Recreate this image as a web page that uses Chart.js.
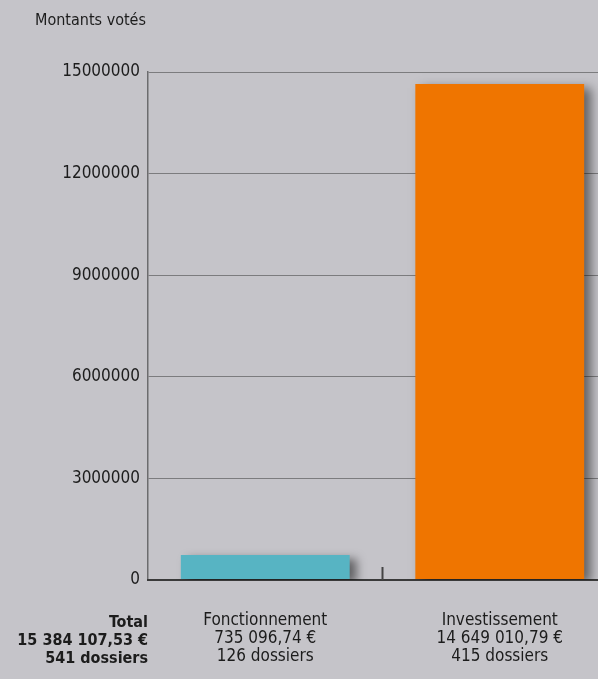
<!DOCTYPE html>
<html>
<head>
<meta charset="utf-8">
<script src="https://cdn.jsdelivr.net/npm/chart.js@4.4.1/dist/chart.umd.min.js"></script>
<style>
  html, body { margin: 0; padding: 0; background: #c5c4c9; overflow: hidden; }
  #wrap { width: 620px; height: 679px; }
</style>
</head>
<body>
<div id="wrap"><canvas id="montantsChart" width="620" height="679"></canvas></div>
<script>
const categories = ["Fonctionnement", "Investissement"];
const amounts = [735096.74, 14649010.79];
const amountLabels = ["735 096,74 €", "14 649 010,79 €"];
const dossierLabels = ["126 dossiers", "415 dossiers"];
const totalLines = ["Total", "15 384 107,53 €", "541 dossiers"];
const yMax = 15000000;
const yStep = 3000000;
const barColors = ["#57b4c3", "#ef7500"];

const FONT = "'Liberation Sans Narrow', 'DejaVu Sans Condensed', sans-serif";

// title, total block and category separator tick
const extras = {
  id: "extras",
  beforeDatasetsDraw(chart) {
    const { ctx } = chart;
    ctx.save();
    ctx.shadowColor = "rgba(0,0,0,0.5)";
    ctx.shadowBlur = 10;
    ctx.shadowOffsetX = 7;
    ctx.shadowOffsetY = 4;
  },
  afterDatasetsDraw(chart) {
    chart.ctx.restore();
  },
  afterDraw(chart) {
    const { ctx, chartArea, scales } = chart;
    const x = scales.x;
    ctx.save();
    ctx.fillStyle = "#1c1c1c";
    ctx.font = "16px " + FONT;
    ctx.textBaseline = "alphabetic";
    ctx.textAlign = "left";
    ctx.fillText("Montants votés", 35, 25);

    ctx.font = "bold 16px " + FONT;
    ctx.textAlign = "right";
    totalLines.forEach((t, i) => ctx.fillText(t, chartArea.left, 627 + i * 18));

    // small separator mark between categories
    const sep = (x.getPixelForValue(0) + x.getPixelForValue(1)) / 2;
    ctx.strokeStyle = "#444";
    ctx.lineWidth = 2;
    ctx.beginPath();
    ctx.moveTo(sep, chartArea.bottom);
    ctx.lineTo(sep, chartArea.bottom - 13);
    ctx.stroke();
    ctx.restore();
  }
};

window.addEventListener("load", () => {
  const ctx = document.getElementById("montantsChart").getContext("2d");

  new Chart(ctx, {
    type: "bar",
    data: {
      labels: categories.map((c, i) => [c, amountLabels[i], dossierLabels[i]]),
      datasets: [{
        data: amounts,
        backgroundColor: barColors,
        borderWidth: 0,
        barPercentage: 0.72,
        categoryPercentage: 1
      }]
    },
    options: {
      responsive: false,
      animation: false,
      layout: { padding: { top: 72, right: 3, left: 0, bottom: 0 } },
      plugins: {
        legend: { display: false },
        tooltip: { enabled: false }
      },
      scales: {
        y: {
          min: 0,
          max: yMax,
          afterFit: s => { s.width = 148; },
          ticks: {
            stepSize: yStep,
            padding: 8,
            color: "#1c1c1c",
            font: { family: FONT, size: 17 },
            callback: v => String(v)
          },
          grid: {
            drawTicks: false,
            color: ctx => ctx.tick && ctx.tick.value === 0 ? "#3a3a3a" : "#7c7c7e",
            lineWidth: ctx => ctx.tick && ctx.tick.value === 0 ? 2 : 1
          },
          border: { color: "#6c6c6e", width: 1.5 }
        },
        x: {
          afterFit: s => { s.height = 99; },
          ticks: {
            padding: 32,
            color: "#1c1c1c",
            font: { family: FONT, size: 17, lineHeight: 1.06 }
          },
          grid: { display: false, drawTicks: false },
          border: { color: "#3a3a3a", width: 2 }
        }
      }
    },
    plugins: [extras]
  });
});
</script>
</body>
</html>
